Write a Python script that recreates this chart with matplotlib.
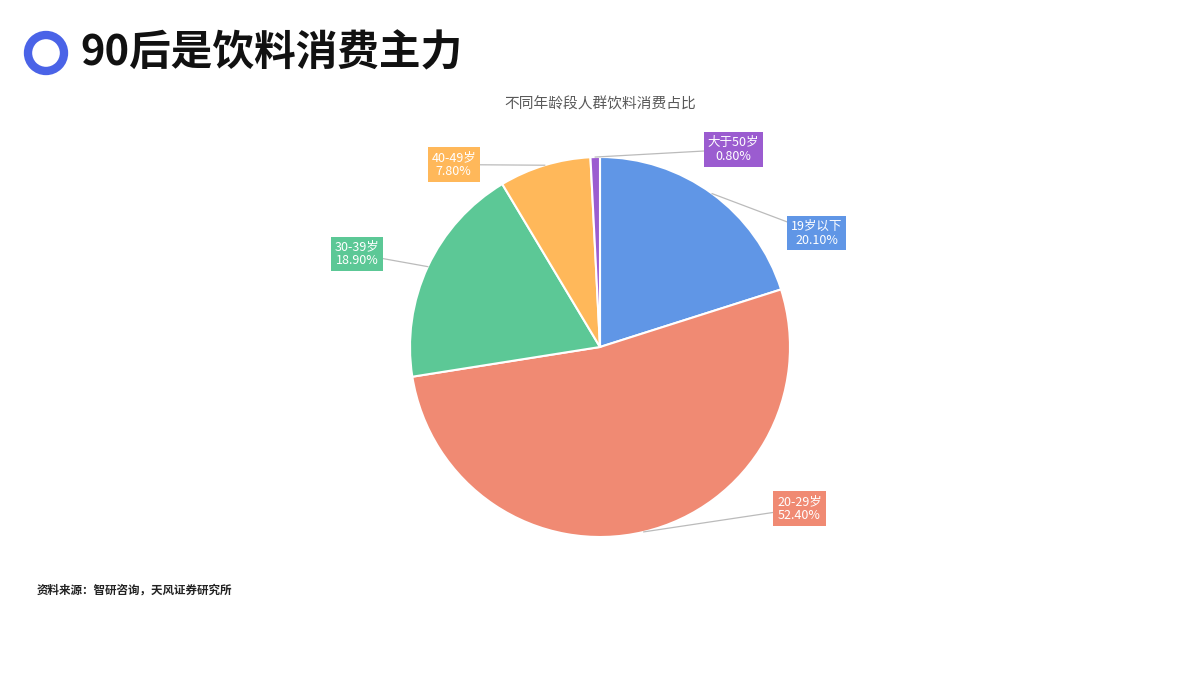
import numpy as np
import matplotlib
matplotlib.use("Agg")
import matplotlib.pyplot as plt
from matplotlib.patches import Circle

plt.rcParams['font.family'] = ['Noto Sans CJK SC', 'DejaVu Sans']

# data
labels = ["19岁以下", "20-29岁", "30-39岁", "40-49岁", "大于50岁"]
shares = [20.10, 52.40, 18.90, 7.80, 0.80]
colors = ["#6096E6", "#F08A73", "#5CC896", "#FFB85A", "#9B5CD0"]
# label box centres, in pie-radius units (layout only)
box_pos = [(1.14, 0.60), (1.05, -0.85), (-1.28, 0.49), (-0.77, 0.96), (0.70, 1.04)]

TITLE = "90后是饮料消费主力"
SUBTITLE = "不同年龄段人群饮料消费占比"
SOURCE = "资料来源：智研咨询，天风证券研究所"

fig = plt.figure(figsize=(12, 6.75), dpi=100)

# ring icon + headline
fig.add_artist(Circle((0.46, 6.22), 0.18, transform=fig.dpi_scale_trans,
                      fill=False, ec="#4A63E7", lw=6))
fig.text(0.067, 1 - 53 / 675, TITLE, fontsize=30, fontweight="bold",
         color="#111111", va="center", ha="left")
fig.text(0.5, 1 - 104 / 675, SUBTITLE, fontsize=10.6, color="#595959",
         ha="center", va="center")
fig.text(37 / 1200, 1 - 590 / 675, SOURCE, fontsize=8.3, fontweight="bold",
         color="#222222", ha="left", va="center")

ax = fig.add_axes([410 / 1200, 138 / 675, 380 / 1200, 380 / 675])
wedges, _ = ax.pie(shares, colors=colors, startangle=90, counterclock=False,
                   radius=1.0, wedgeprops=dict(edgecolor="white", linewidth=1.5))
ax.set_xlim(-1, 1); ax.set_ylim(-1, 1); ax.set_aspect("equal")
ax.axis("off")

for w, lab, val, col, (bx, by) in zip(wedges, labels, shares, colors, box_pos):
    mid = np.deg2rad((w.theta1 + w.theta2) / 2)
    sx, sy = np.cos(mid), np.sin(mid)
    ax.plot([sx, bx], [sy, by], color="#BBBBBB", lw=0.9, zorder=3, clip_on=False)
    ax.text(bx, by, f"{lab}\n{val:.2f}%", fontsize=9, color="white",
            ha="center", va="center", multialignment="center", linespacing=1.1,
            zorder=4, clip_on=False,
            bbox=dict(boxstyle="square,pad=0.3", fc=col, ec="none"))

fig.savefig("out.png", dpi=100)
